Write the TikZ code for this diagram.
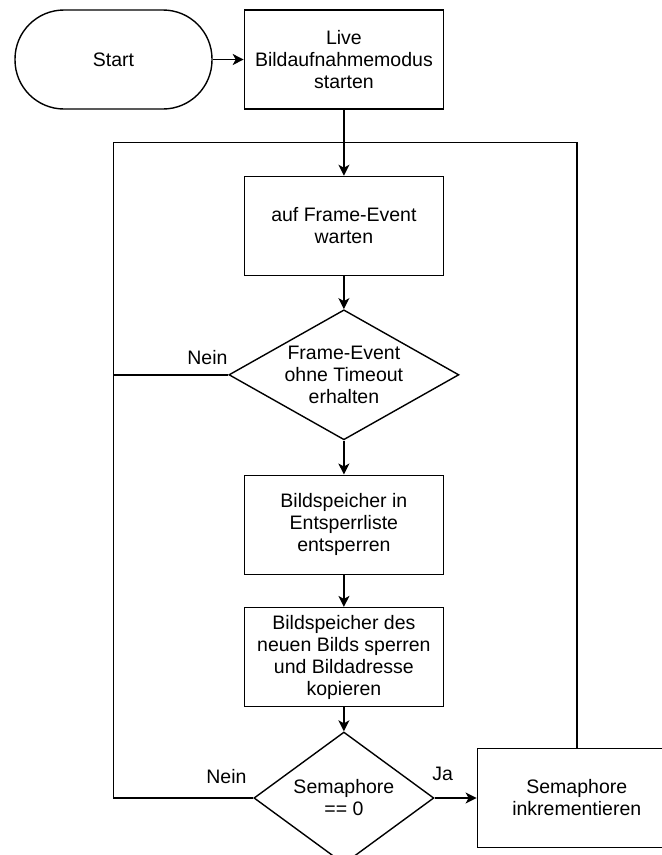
\documentclass[tikz,border=0pt]{standalone}
\usepackage{fontspec}
\setmainfont{Liberation Sans}
\usetikzlibrary{arrows.meta, positioning, shapes.geometric}

\begin{document}
\begin{tikzpicture}[
x=1pt, y=1pt,
node distance=32pt,
font=\fontsize{19.5}{22}\selectfont,
line width=1.4pt,
box/.style={draw, rectangle, align=center, minimum width=199pt, minimum height=99pt},
term/.style={draw, rectangle, rounded corners=49pt, align=center, minimum width=197pt, minimum height=99pt},
decision/.style={draw, diamond, align=center, inner sep=0pt},
lbl/.style={inner sep=0pt},
arrow/.style={-{Stealth[length=11pt, width=11pt, inset=3pt]}}
]

\useasboundingbox (0,0) rectangle (662,-855);
\clip (0,0) rectangle (662,-855);

\node[term] (start) at (113.5,-59.5) {Start};

\node[box, right=31pt of start] (live)
{Live\\
Bildaufnahmemodus\\
starten};

\node[box, below=66pt of live] (wait)
{auf Frame-Event\\
warten};

\node[decision, below=33pt of wait, aspect=1.77, minimum width=230pt, minimum height=130pt] (check)
{Frame-Event\\
ohne Timeout\\
erhalten};

\node[box, below=34pt of check] (unlock)
{Bildspeicher in\\
Entsperrliste\\
entsperren};

\node[box, below=of unlock] (lock)
{Bildspeicher des\\
neuen Bilds sperren\\
und Bildadresse\\
kopieren};

\node[decision, below=24pt of lock, aspect=1.36, minimum width=180pt, minimum height=132pt] (sema)
{Semaphore\\
== 0};

\node[box, right=42pt of sema] (incr)
{Semaphore\\
inkrementieren};

\coordinate[below=33pt of live.south] (joint);
\coordinate[left=230.5pt of joint] (loopl);

\node[lbl, above left=9pt and 0pt of check.west] (nein1) {Nein};
\node[lbl, above left=14pt and 6pt of sema.west] (nein2) {Nein};
\node[lbl, above right=17pt and -3pt of sema.east] (ja) {Ja};

\draw[arrow] (start) -- (live);
\draw[arrow] (live) -- (wait);
\draw[arrow] (wait) -- (check);
\draw[arrow] (check) -- (unlock);
\draw[arrow] (unlock) -- (lock);
\draw[arrow] (lock) -- (sema);
\draw[arrow] (sema) -- (incr);
\draw (check.west) -| (loopl) -- (joint);
\draw (sema.west) -| (loopl);
\draw (incr.north) |- (joint);

\end{tikzpicture}
\end{document}
